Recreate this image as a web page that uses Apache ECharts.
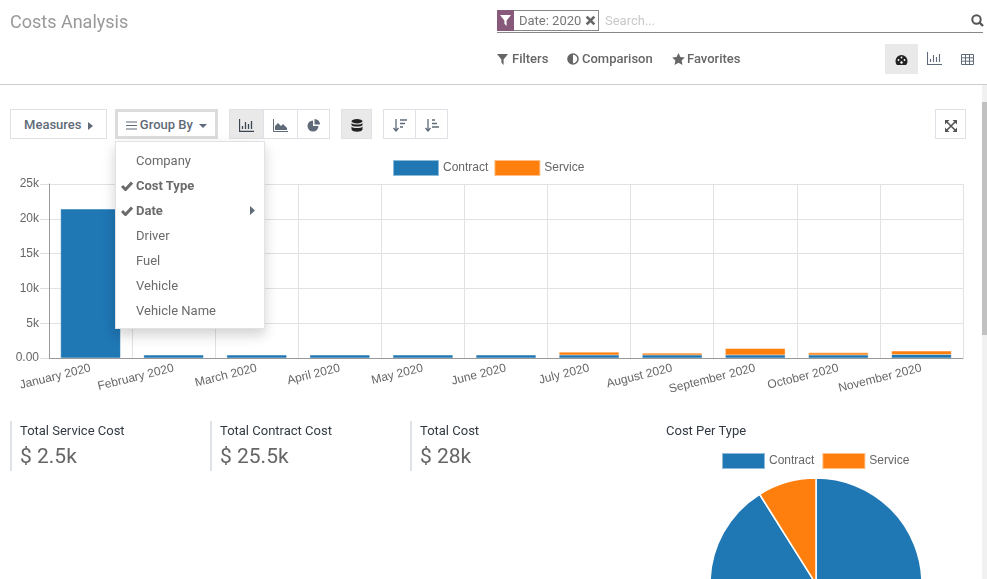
<!DOCTYPE html>
<html>
<head>
<meta charset="utf-8">
<title>Costs Analysis</title>
<script src="https://cdn.jsdelivr.net/npm/echarts@6/dist/echarts.min.js"></script>
<style>
  html, body { margin: 0; padding: 0; background: #fff; overflow: hidden; }
  body { width: 987px; height: 579px; position: relative; font-family: Roboto, sans-serif; font-size: 13px; color: #666; }
  #main { position: absolute; left: 0; top: 0; width: 987px; height: 579px; }
  .abs { position: absolute; white-space: nowrap; line-height: 16px; }
  .rule { position: absolute; background: #ccc; }
  .btn { position: absolute; box-sizing: border-box; height: 30px; top: 109px; border: 1px solid #dee2e6; background: #fff;
         color: #5f6b78; font-weight: 500; line-height: 29px; white-space: nowrap; text-align: center; }
  .btn.on { background: #e9e9e9; }
  .btn svg, .abs svg { vertical-align: middle; }
  .menu { position: absolute; left: 115px; top: 141px; width: 150px; height: 188px; box-sizing: border-box; background: #fff;
          border: 1px solid #e2e2e2; box-shadow: 0 6px 12px rgba(0,0,0,.18); z-index: 5; }
  .menu div { position: absolute; left: 20px; line-height: 16px; white-space: nowrap; color: #6b6b6b; }
  .menu b { font-weight: 700; }
  .kpi { position: absolute; top: 421px; height: 50px; border-left: 2px solid #dee2e6; padding-left: 8px; }
  .kpi .t { color: #333a44; line-height: 18px; margin-top: 0; padding-top: 1px; }
  .kpi .v { font-size: 21px; color: #666; line-height: 28px; margin-top: 2px; }
</style>
</head>
<body>
<div id="main"></div>

<!-- header -->
<div class="abs" style="left:10px;top:11px;font-size:18px;line-height:22px;color:#999">Costs Analysis</div>
<div class="abs" style="left:497px;top:10px;width:102px;height:21px;box-sizing:border-box;border:1px solid #888"></div>
<div class="abs" style="left:497px;top:10px;width:17px;height:21px;background:#875a7b;text-align:center;line-height:20px">
  <svg width="11" height="11" viewBox="0 0 10 10"><path d="M0 0h10L6 5v5L4 8V5z" fill="#fff"/></svg></div>
<div class="abs" style="left:519px;top:13px;color:#777">Date: 2020</div>
<div class="abs" style="left:585px;top:12px"><svg width="11" height="11" viewBox="0 0 10 10"><path d="M1.5 1.5l7 7M8.500 1.500l-7 7" stroke="#666" stroke-width="2.400"/></svg></div>
<div class="abs" style="left:605px;top:13px;color:#c8c8c8">Search...</div>
<div class="rule" style="left:497px;top:32px;width:486px;height:1px;background:#888"></div>
<div class="abs" style="left:971px;top:12px"><svg width="13" height="13" viewBox="0 0 13 13"><circle cx="5.500" cy="5.500" r="4.200" fill="none" stroke="#555" stroke-width="2"/><path d="M8.500 8.500l3.500 3.500" stroke="#555" stroke-width="2.400"/></svg></div>

<div class="abs" style="left:497px;top:51px;font-weight:500;color:#666"><svg width="11" height="11" viewBox="0 0 10 10"><path d="M0 0h10L6 5v5L4 8V5z" fill="#666"/></svg></div>
<div class="abs" style="left:512px;top:51px;font-weight:500;color:#666">Filters</div>
<div class="abs" style="left:567px;top:50px"><svg width="12" height="12" viewBox="0 0 12 12"><circle cx="6" cy="6" r="5" fill="#fff" stroke="#666" stroke-width="1.600"/><path d="M6 1a5 5 0 0 0 0 10z" fill="#666"/></svg></div>
<div class="abs" style="left:582px;top:51px;font-weight:500;color:#666">Comparison</div>
<div class="abs" style="left:672px;top:50px"><svg width="13" height="12" viewBox="0 0 13 12"><path d="M6.500 0l1.900 4 4.400.5-3.200 3 .9 4.400-4-2.200-4 2.200.9-4.400-3.200-3L4.600 4z" fill="#666"/></svg></div>
<div class="abs" style="left:687px;top:51px;font-weight:500;color:#666">Favorites</div>

<div class="abs" style="left:885px;top:44px;width:33px;height:30px;background:#e9e9e9"></div>
<div class="abs" style="left:895px;top:51px"><svg width="13" height="12" viewBox="0 0 13 12"><path d="M6.500 1a6 6 0 0 0-6 6c0 1.700.6 3 1.500 4h9c.9-1 1.500-2.300 1.500-4a6 6 0 0 0-6-6z" fill="#222"/><circle cx="3.500" cy="6" r=".9" fill="#fff"/><circle cx="6.500" cy="3.500" r=".9" fill="#fff"/><circle cx="9.500" cy="6" r=".9" fill="#fff"/><circle cx="6.500" cy="8.500" r="1.200" fill="#fff"/></svg></div>
<div class="abs" style="left:927px;top:50px"><svg width="15" height="13" viewBox="0 0 15 13"><path d="M.5 0v12.500H15M3.500 10V7M6.500 10V3M9.500 10V5M12.500 10V2" stroke="#5f6b78" stroke-width="1.100" fill="none"/></svg></div>
<div class="abs" style="left:961px;top:51px"><svg width="13" height="11" viewBox="0 0 13 11"><path d="M.5.500h12v10H.5zM.5 3.800h12M.5 7.200h12M4.500 .5v10M8.500 .5v10" stroke="#5f6b78" stroke-width="1" fill="none"/></svg></div>
<div class="rule" style="left:0;top:84px;width:987px;height:1px"></div>

<!-- scrollbar -->
<div class="abs" style="left:982px;top:85px;width:5px;height:494px;background:#f1f1f1;z-index:2"></div>
<div class="abs" style="left:982px;top:102px;width:5px;height:233px;background:#c1c1c1;z-index:2"></div>

<!-- toolbar -->
<div class="btn" style="left:10px;width:97px">Measures&nbsp; <svg width="5" height="8" viewBox="0 0 5 8"><path d="M0 0l5 4-5 4z" fill="#5f6b78"/></svg></div>
<div class="btn" style="left:115px;width:103px;border:3px solid #dcdcdc;line-height:25px"><svg width="11" height="9" viewBox="0 0 11 9"><path d="M0 1h11M0 4.500h11M0 8h11" stroke="#5f6b78" stroke-width="1.200"/></svg> Group By&nbsp; <svg width="8" height="4" viewBox="0 0 8 4"><path d="M0 0h8L4 4z" fill="#5f6b78"/></svg></div>
<div class="btn on" style="left:229px;width:35px"><svg width="15" height="13" viewBox="0 0 15 13"><path d="M.5 0v12.500H15M3.500 10V7M6.500 10V3M9.500 10V5M12.500 10V2" stroke="#3b4652" stroke-width="1.300" fill="none"/></svg></div>
<div class="btn" style="left:263px;width:35px"><svg width="15" height="13" viewBox="0 0 15 13"><path d="M.5 0v12.500H15" stroke="#5f6b78" fill="none"/><path d="M2 11V7l3-3 3 3 2-2 4 4v2z" fill="#5f6b78"/></svg></div>
<div class="btn" style="left:297px;width:33px"><svg width="13" height="13" viewBox="0 0 13 13"><path d="M6 1.500a5.500 5.500 0 1 0 5.500 5.500H6z" fill="#5f6b78"/><path d="M7.500 0a5.500 5.500 0 0 1 5.500 5.500H7.500z" fill="#5f6b78"/></svg></div>
<div class="btn on" style="left:341px;width:31px"><svg width="12" height="13" viewBox="0 0 12 13"><ellipse cx="6" cy="2.200" rx="5.500" ry="2.200" fill="#222"/><path d="M.5 4c1 2 10 2 11 0v2c-1 2-10 2-11 0zM.5 7.500c1 2 10 2 11 0v3c-1 3-10 3-11 0z" fill="#222"/></svg></div>
<div class="btn" style="left:383px;width:33px"><svg width="14" height="13" viewBox="0 0 14 13"><path d="M3 0v11M.5 9L3 12l2.500-3M7 1h7M7 4.500h5M7 8h3" stroke="#5f6b78" stroke-width="1.300" fill="none"/></svg></div>
<div class="btn" style="left:415px;width:33px"><svg width="14" height="13" viewBox="0 0 14 13"><path d="M3 0v11M.5 9L3 12l2.500-3M7 1h3M7 4.500h5M7 8h7" stroke="#5f6b78" stroke-width="1.300" fill="none"/></svg></div>
<div class="btn" style="left:935px;width:31px"><svg width="12" height="12" viewBox="0 0 12 12"><path d="M1 1l10 10M11 1L1 11" stroke="#555" stroke-width="1.600"/><path d="M0 0h4.500L0 4.500zM12 0v4.500L7.500 0zM0 12V7.500L4.500 12zM12 12H7.500L12 7.500z" fill="#555"/></svg></div>

<!-- group by menu -->
<div class="menu">
  <div style="top:11px">Company</div>
  <div style="top:36px"><b>Cost Type</b></div>
  <div style="top:61px"><b>Date</b></div>
  <div style="top:86px">Driver</div>
  <div style="top:111px">Fuel</div>
  <div style="top:136px">Vehicle</div>
  <div style="top:161px">Vehicle Name</div>
  <svg style="position:absolute;left:5px;top:39px" width="12" height="10" viewBox="0 0 12 10"><path d="M1 5l3.500 3.500L11 1.500" stroke="#6b6b6b" stroke-width="3" fill="none"/></svg>
  <svg style="position:absolute;left:5px;top:64px" width="12" height="10" viewBox="0 0 12 10"><path d="M1 5l3.500 3.500L11 1.500" stroke="#6b6b6b" stroke-width="3" fill="none"/></svg>
  <svg style="position:absolute;left:134px;top:64px" width="5" height="9" viewBox="0 0 5 9"><path d="M0 0l5 4.500L0 9z" fill="#5f6b78"/></svg>
</div>

<!-- totals -->
<div class="kpi" style="left:10px"><div class="t">Total Service Cost</div><div class="v">$ 2.5k</div></div>
<div class="kpi" style="left:210px"><div class="t">Total Contract Cost</div><div class="v">$ 25.5k</div></div>
<div class="kpi" style="left:410px"><div class="t">Total Cost</div><div class="v">$ 28k</div></div>
<div class="abs" style="left:666px;top:423px;color:#333a44">Cost Per Type</div>

<script>
// 图表数据
var months = ['January 2020', 'February 2020', 'March 2020', 'April 2020', 'May 2020', 'June 2020',
  'July 2020', 'August 2020', 'September 2020', 'October 2020', 'November 2020'];
var contractCosts = [21400, 420, 420, 420, 420, 420, 420, 420, 420, 420, 500];
var serviceCosts = [null, null, null, null, null, null, 420, 280, 950, 350, 500];
var typeNames = ['Contract', 'Service'];
var typeTotals = [25500, 2500];
var yTickLabels = { 0: '0.00', 5000: '5k', 10000: '10k', 15000: '15k', 20000: '20k', 25000: '25k' };

var BLUE = '#1f77b4', ORANGE = '#ff7f0e', FONT = 'Liberation Sans, Arial, sans-serif';

var legendBase = {
  orient: 'horizontal',
  icon: 'rect',
  padding: 0,
  data: typeNames,
  selectedMode: false
};

var myChart = echarts.init(document.getElementById('main'));
myChart.setOption({
  animation: false,
  color: [BLUE, ORANGE],
  legend: [
    Object.assign({}, legendBase, {
      left: 393, top: 160, itemWidth: 44, itemHeight: 14, itemGap: 6,
      textStyle: { color: '#666', fontSize: 12, fontFamily: FONT }
    }),
    Object.assign({}, legendBase, {
      left: 722, top: 453, itemWidth: 41, itemHeight: 14, itemGap: 8,
      textStyle: { color: '#666', fontSize: 12, fontFamily: FONT }
    })
  ],
  grid: { left: 49, top: 184, width: 914, height: 174 },
  xAxis: {
    type: 'category',
    data: months,
    axisLine: { lineStyle: { color: '#999' } },
    axisTick: { length: 9, lineStyle: { color: '#ddd' } },
    splitLine: { show: true, lineStyle: { color: '#e2e2e2' } },
    axisLabel: { interval: 0, rotate: 14, color: '#666', fontSize: 12, fontFamily: FONT, margin: 10 }
  },
  yAxis: {
    type: 'value',
    min: 0,
    max: 25000,
    interval: 5000,
    axisLine: { show: true, lineStyle: { color: '#999' } },
    axisTick: { show: true, length: 9, lineStyle: { color: '#ddd' } },
    splitLine: { lineStyle: { color: '#e2e2e2' } },
    axisLabel: {
      color: '#666', fontSize: 12, fontFamily: FONT, margin: 10,
      formatter: function (v) { return yTickLabels[v]; }
    }
  },
  series: [
    {
      name: 'Contract', type: 'bar', stack: 'cost', data: contractCosts, barWidth: '72%',
      itemStyle: { color: BLUE, borderColor: 'rgba(31,119,180,.5)', borderWidth: 1 }
    },
    {
      name: 'Service', type: 'bar', stack: 'cost', data: serviceCosts, barWidth: '72%',
      itemStyle: { color: ORANGE, borderColor: 'rgba(255,127,14,.5)', borderWidth: 1 }
    },
    {
      name: 'Cost Per Type', type: 'pie', center: [816, 584], radius: 106, startAngle: 90,
      label: { show: false }, labelLine: { show: false },
      itemStyle: { borderColor: '#fff', borderWidth: 1.500 },
      data: typeNames.map(function (n, i) { return { name: n, value: typeTotals[i] }; })
    }
  ]
});
</script>
</body>
</html>
